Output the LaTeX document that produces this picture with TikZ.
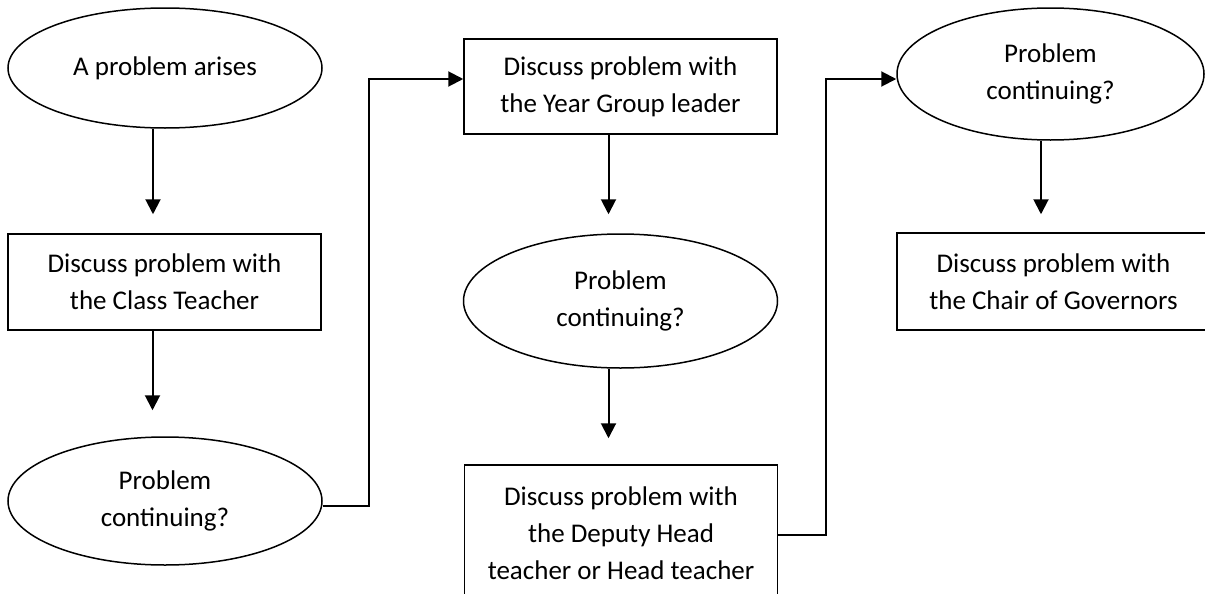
\documentclass[tikz,border=0pt]{standalone}
\usepackage{fontspec}
\setmainfont{Carlito}
\usetikzlibrary{arrows.meta, shapes.geometric}
\tikzset{
  txt/.style = {align=center, inner sep=0pt, font=\fontsize{13.5}{18.5}\selectfont},
  box/.style = {txt, draw, line width=0.75pt, rectangle, minimum width=156.5pt, minimum height=48pt},
  oval/.style = {txt, draw, line width=0.75pt, ellipse, minimum width=157pt, minimum height=64pt},
  arr/.style = {line width=1pt, -{Triangle[length=7.5pt, width=7.5pt]}}
}

\begin{document}
\begin{tikzpicture}[x=0.5pt, y=-0.5pt]

  \clip (0,0) rectangle (1205,594);

  % First column
  \node[oval, minimum height=60pt] (start) at (165,68) {A problem arises};
  \node[box] (teacher) at (164.5,282) {Discuss problem with\\the Class Teacher};
  \node[oval] (cont1) at (165,501) {Problem\\continuing?};

  % Second column
  \node[box, minimum height=47.5pt] (year) at (620.5,86.5) {Discuss problem with\\the Year Group leader};
  \node[oval, minimum height=67pt] (cont2) at (620.5,301) {Problem\\continuing?};
  \node[box, minimum height=68pt] (head) at (621,533) {Discuss problem with\\the Deputy Head\\teacher or Head teacher};

  % Third column
  \node[oval, minimum width=153.5pt, minimum height=66pt] (cont3) at (1050.5,74) {Problem\\continuing?};
  \node[box, minimum height=48.5pt] (chair) at (1053.5,281.5) {Discuss problem with\\the Chair of Governors};

  % Arrows down
  \draw[arr, shorten >=9.5pt] ([xshift=-6pt]start.south) -- ([xshift=-6pt]start.south |- teacher.north);
  \draw[arr, shorten >=13pt] ([xshift=-6pt]teacher.south) -- ([xshift=-6pt]teacher.south |- cont1.north);
  \draw[arr, shorten >=9.5pt] ([xshift=-6pt]year.south) -- ([xshift=-6pt]year.south |- cont2.north);
  \draw[arr, shorten >=13pt] ([xshift=-6pt]cont2.south) -- ([xshift=-6pt]cont2.south |- head.north);
  \draw[arr, shorten >=9pt] ([xshift=-4.75pt]cont3.south) -- ([xshift=-4.75pt]cont3.south |- chair.north);

  % Elbow connectors
  \draw[arr] ([yshift=-2.5pt]cont1.east) -- ++(46,0) |- ([yshift=3.75pt]year.west);
  \draw[arr] ([yshift=-1pt]head.east) -- ++(48,0) |- ([yshift=-2.5pt]cont3.west);

\end{tikzpicture}
\end{document}
